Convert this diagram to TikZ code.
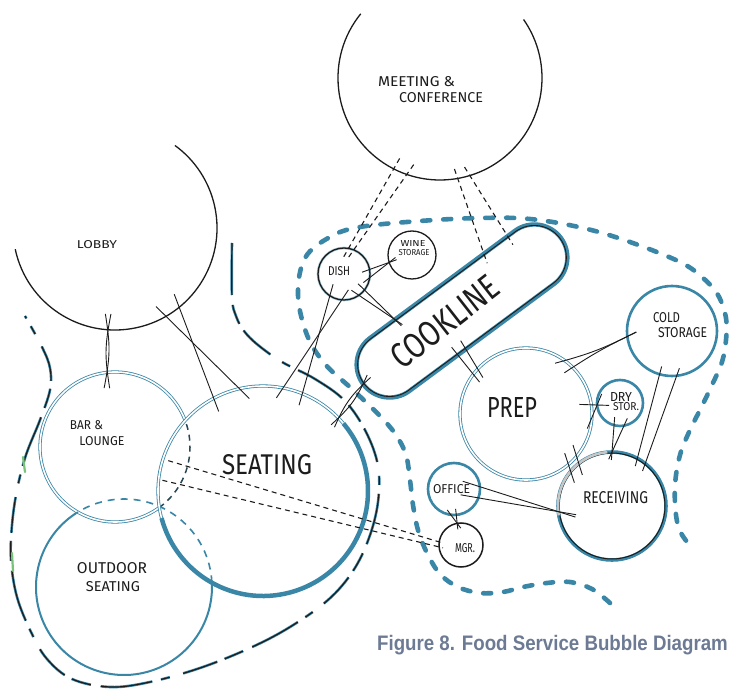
\documentclass[tikz,border=0pt]{standalone}
\usepackage{fontspec}
\usetikzlibrary{calc}
\newfontfamily\hand{Fira Sans}
\newfontfamily\capfont{Liberation Sans}
\definecolor{sblue}{RGB}{58,134,166}
\definecolor{capgray}{RGB}{108,122,148}
\definecolor{ink}{RGB}{28,28,28}
\definecolor{leafgreen}{RGB}{120,195,120}
\newcommand{\handlbl}[3]{\resizebox{#1}{#2}{\hand #3}}
\def\pubpath{plot[smooth, tension=0.6] coordinates {(232,-243) (232,-297) (236,-316) (244,-331) (258,-345) (282,-362) (315,-379) (345,-401) (366,-432) (378,-466) (378,-502) (369,-538) (353,-571) (328,-600) (290,-627) (250,-648) (200,-668) (150,-682) (110,-687) (72,-679) (47,-659) (31,-632) (17,-597) (11,-560) (12,-525) (17,-490) (26,-455) (40,-420) (50,-390) (50,-368) (42,-347) (25,-316)}}
\begin{document}
\begin{tikzpicture}[x=1pt, y=1pt,
  bub/.style={circle, inner sep=0pt, outer sep=0pt},
  lab/.style={inner sep=0pt, outer sep=0pt, text=ink},
  tie/.style={draw=ink, line width=0.9pt, shorten <=-#1, shorten >=-#1},
  tie/.default=10pt,
  dtie/.style={tie=#1, line width=1.1pt, dash pattern=on 5pt off 4pt},
  dtie/.default=10pt,
  thinpair/.style={draw=sblue, line width=0.8pt, double=white, double distance=1.6pt},
  kitchen/.style={draw=sblue, line width=4.6pt, line cap=round, dash pattern=on 8pt off 13pt},
  pubblue/.style={draw=sblue, line width=2.6pt, dash pattern=on 52pt off 10pt on 20pt off 8pt on 36pt off 14pt on 9pt off 9pt},
  pubink/.style={draw=ink, line width=1.2pt, dash pattern=on 52pt off 10pt on 20pt off 8pt on 36pt off 14pt on 9pt off 9pt}]
\useasboundingbox (0,0) rectangle (729,-692);
\fill[white] (0,0) rectangle (729,-692);

% ---------- zone outlines ----------
\draw[kitchen] plot[smooth, tension=0.6] coordinates {(610,-603) (592,-589) (570,-582) (547,-583) (523,-587) (503,-592) (480,-593) (458,-587) (440,-574) (427,-553) (418,-530) (413,-505) (410,-480) (406,-455) (396,-435) (380,-416) (352,-389) (325,-364) (307,-335) (298,-295) (305,-258) (330,-237) (360,-227) (420,-221) (480,-218) (530,-219) (583,-228) (630,-242) (680,-262) (703,-278) (718,-295) (726,-318) (726,-340) (722,-362) (712,-385) (701,-408) (690,-430) (680,-455) (675,-485) (676,-515) (681,-533) (692,-548)};
\draw[pubblue] \pubpath;
\draw[pubink] \pubpath;
\draw[leafgreen, line width=2.2pt, line cap=round] (23,-457) -- (25,-472);
\draw[leafgreen, line width=2.2pt, line cap=round] (12,-553) -- (13,-571);

% ---------- bubbles ----------
\node[bub, minimum size=204pt] (meet) at (440,-78) {};
\draw[ink, line width=1.3pt] (meet.141) arc[start angle=141, end angle=395, radius=102pt];

\node[bub, minimum size=204pt] (lobby) at (115,-228) {};
\draw[ink, line width=1.3pt] (lobby.-168) arc[start angle=-168, end angle=54, radius=102pt];

\node[bub, minimum size=150pt] (bar) at (115,-447) {};
\draw[thinpair] (bar.21) arc[start angle=21, end angle=306, radius=75pt];
\draw[ink!60!sblue, line width=1.5pt, dash pattern=on 6pt off 5pt] (bar.-54) arc[start angle=-54, end angle=21, radius=75pt];

\node[bub, minimum size=176pt] (outdoor) at (124,-587) {};
\draw[sblue, line width=2pt] (outdoor.123) arc[start angle=123, end angle=363, radius=88pt];
\draw[sblue, line width=1.6pt, dash pattern=on 7pt off 6pt] (outdoor.3) arc[start angle=3, end angle=123, radius=88pt];

\node[bub, minimum size=210pt] (seat) at (263,-491) {};
\draw[thinpair] (seat.40) arc[start angle=40, end angle=200, radius=105pt];
\draw[sblue, line width=4.5pt] (seat.195) arc[start angle=195, end angle=400, radius=105pt];

\node[bub, minimum size=52pt, draw=sblue!45, line width=2.6pt] (dish) at (344,-274) {};
\draw[ink, line width=1.3pt] (dish.center) circle[radius=26pt];

\node[bub, minimum size=48pt, draw=ink, line width=1.3pt] (wine) at (412,-255) {};

\node[rectangle, rounded corners=33pt, minimum width=246pt, minimum height=66pt,
      inner sep=0pt, outer sep=0pt, rotate=36.5, draw=sblue, line width=4.4pt] (cook) at (462,-311) {};
\node[rectangle, rounded corners=32pt, minimum width=244pt, minimum height=64pt,
      inner sep=0pt, outer sep=0pt, rotate=36.5, draw=ink, line width=0.9pt] (cookrim) at (462,-311) {};

\node[bub, minimum size=132pt, thinpair] (prep) at (526,-414) {};
\node[bub, minimum size=90pt, draw=sblue, line width=2.6pt] (cold) at (672,-331) {};
\node[bub, minimum size=46pt, draw=sblue, line width=2.6pt] (dry) at (620,-403) {};
\node[bub, minimum size=108pt, draw=sblue, line width=3.6pt] (recv) at (612,-506) {};
\draw[ink, line width=1pt] (recv.center) circle[radius=53pt];
\draw[gray!45, line width=2.6pt] (recv.95) arc[start angle=95, end angle=190, radius=54pt];
\node[bub, minimum size=52pt, draw=sblue, line width=2.6pt] (office) at (454,-489) {};
\node[bub, minimum size=44pt, draw=ink, line width=1.5pt] (mgr) at (461,-545) {};

% ---------- points on the cookline rim ----------
\coordinate (cu1) at ($(cook.north west)!0.26!(cook.north east)$);
\coordinate (cu2) at ($(cook.north west)!0.71!(cook.north east)$);
\coordinate (cu3) at ($(cook.north west)!0.83!(cook.north east)$);
\coordinate (cl1) at ($(cook.south west)!0.38!(cook.south east)$);
\coordinate (cl2) at ($(cook.south west)!0.42!(cook.south east)$);

% ---------- adjacencies ----------
\draw[tie=16pt] (lobby.-94) to[bend left=10] (bar.96);
\draw[tie=16pt] (lobby.-94) to[bend right=10] (bar.96);
\draw[tie=14pt] (lobby.-60) -- (seat.103);
\draw[tie=14pt] (lobby.-51) -- (seat.118);
\draw[tie=12pt] (dish.-123) -- (seat.68);
\draw[tie=12pt] (dish.-95) -- (seat.79);
\draw[tie=10pt] (seat.44) to[bend left=12] (cook.west);
\draw[tie=10pt] (seat.44) to[bend right=12] (cook.west);
\draw[tie=8pt] (dish.10) -- (wine.198);
\draw[tie=8pt] (dish.-8) -- (wine.198);
\draw[tie=9pt] (dish.-38) -- (cu1);
\draw[tie=9pt] (dish.-55) -- (cu1);
\draw[dtie=12pt] (meet.-117) -- (dish.80);
\draw[dtie=12pt] (meet.-109) -- (dish.68);
\draw[dtie=10pt] (meet.-80) -- (cu2);
\draw[dtie=10pt] (meet.-73) -- (cu3);
\draw[tie=10pt] (cl1) -- (prep.143);
\draw[tie=10pt] (cl2) -- (prep.137);
\draw[tie=10pt] (prep.54) to[bend right=6] (cold.187);
\draw[tie=10pt] (prep.45) to[bend left=4] (cold.187);
\draw[tie=12pt] (prep.8) -- (dry.185);
\draw[tie=12pt] (prep.-3) -- (dry.185);
\draw[tie=12pt] (prep.-40) -- (recv.128);
\draw[tie=12pt] (prep.-50) -- (recv.140);
\draw[tie=8pt] (dry.-105) -- (recv.90);
\draw[tie=8pt] (dry.-80) -- (recv.90);
\draw[tie=8pt] (cold.-106) -- (recv.62);
\draw[tie=8pt] (cold.-84) -- (recv.52);
\draw[tie=18pt] (office.5) -- (recv.186);
\draw[tie=18pt] (office.-20) -- (recv.186);
\draw[tie=6pt] (office.-85) -- (mgr.100);
\draw[tie=6pt] (office.-97) -- (mgr.100);
\draw[dtie=20pt, shorten >=-4pt] (bar.-15) -- (mgr.172);
\draw[dtie=18pt, shorten >=-4pt] (bar.-30) -- (mgr.185);

% ---------- labels ----------
\node[lab] (tMeetA) at (416.5,-82) {\handlbl{77pt}{10pt}{MEETING \&}};
\node[lab] (tMeetB) at (441,-98) {\handlbl{84pt}{10pt}{CONFERENCE}};
\node[lab] (tLobby) at (97,-245) {\handlbl{40pt}{8pt}{LOBBY}};
\node[lab] (tBarA) at (86.5,-425) {\handlbl{33pt}{9pt}{BAR \&}};
\node[lab] (tBarB) at (102,-441) {\handlbl{45pt}{9pt}{LOUNGE}};
\node[lab] (tOutA) at (112,-568) {\handlbl{70pt}{11pt}{OUTDOOR}};
\node[lab] (tOutB) at (113,-587) {\handlbl{54pt}{10pt}{SEATING}};
\node[lab] (tSeat) at (267,-465) {\handlbl{90pt}{20pt}{SEATING}};
\node[lab] (tDish) at (339,-271) {\handlbl{22pt}{9pt}{DISH}};
\node[lab] (tWineA) at (413,-244) {\handlbl{25pt}{6pt}{WINE}};
\node[lab] (tWineB) at (414,-253) {\handlbl{31pt}{6pt}{STORAGE}};
\node[lab, rotate=38] (tCook) at (445,-322) {\handlbl{127pt}{25pt}{COOKLINE}};
\node[lab] (tPrep) at (512,-407) {\handlbl{50pt}{20pt}{PREP}};
\node[lab] (tColdA) at (666.5,-318) {\handlbl{27pt}{10pt}{COLD}};
\node[lab] (tColdB) at (682.5,-333) {\handlbl{49pt}{10pt}{STORAGE}};
\node[lab] (tDryA) at (621,-397) {\handlbl{22pt}{9pt}{DRY}};
\node[lab] (tDryB) at (626,-407) {\handlbl{26pt}{8pt}{STOR.}};
\node[lab] (tRecv) at (615.5,-498) {\handlbl{65pt}{12pt}{RECEIVING}};
\node[lab] (tOffice) at (451.5,-489) {\handlbl{37pt}{9pt}{OFFICE}};
\node[lab] (tMgr) at (465,-548) {\handlbl{20pt}{9pt}{MGR.}};

\node[anchor=base, inner sep=0pt, text=capgray] (caption) at (552.5,-650)
  {\scalebox{0.89}[1]{\fontsize{21}{21}\selectfont\capfont\bfseries Figure 8. Food Service Bubble Diagram}};
\end{tikzpicture}
\end{document}
